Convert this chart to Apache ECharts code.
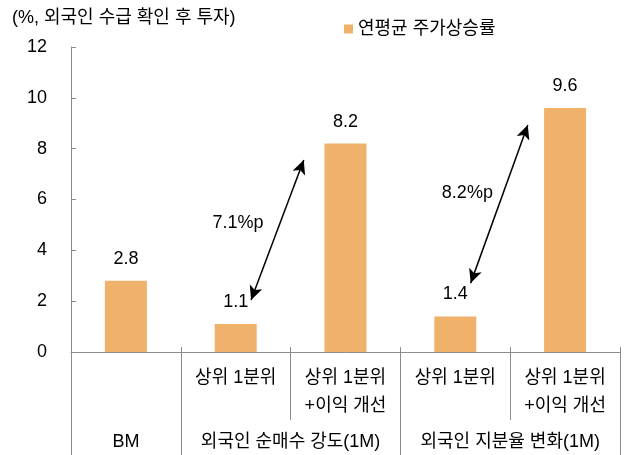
<!DOCTYPE html>
<html>
<head>
<meta charset="utf-8">
<script src="https://cdn.jsdelivr.net/npm/echarts@6/dist/echarts.min.js"></script>
<style>
  html, body { margin: 0; padding: 0; background: #fff; }
  #chart { width: 624px; height: 455px; }
</style>
</head>
<body>
<div id="chart"></div>
<script>
// Bar categories (first-level axis labels) and values
const categories = ['', '상위 1분위', '상위 1분위\n+이익 개선', '상위 1분위', '상위 1분위\n+이익 개선'];
const returns = [2.8, 1.1, 8.2, 1.4, 9.6];
const seriesName = '연평균 주가상승률';

// Second-level groups: name and number of categories each spans
const groupNames = ['BM', '외국인 순매수 강도(1M)', '외국인 지분율 변화(1M)'];
const groupSpans = [1, 2, 2];

// Gap annotations: arrow endpoints (category position, %) and their labels
const arrowFrom = [[1.14, 2.05], [3.14, 2.71]];
const arrowTo = [[1.62, 7.55], [3.66, 8.93]];
const gapLabels = ['7.1%p', '8.2%p'];
const gapLabelPos = [[1.02, 5.07], [3.11, 6.25]];

const yTicks = { min: 0, max: 12, interval: 2 };

// Group boundaries and centres on a continuous -0.5..n-0.5 scale
const groupEdges = [-0.5];
const groupCenters = [];
groupSpans.forEach(function (s) {
  const start = groupEdges[groupEdges.length - 1];
  groupCenters.push(start + s / 2);
  groupEdges.push(start + s);
});

const FONT = '"Liberation Sans", "Noto Sans CJK KR", sans-serif';
const AXIS_COLOR = '#8c8c8c';

const chart = echarts.init(document.getElementById('chart'), null, { renderer: 'canvas' });

chart.setOption({
  animation: false,
  textStyle: { fontFamily: FONT },
  title: {
    text: '(%, 외국인 수급 확인 후 투자)',
    left: 7,
    top: 4,
    textStyle: { fontSize: 18, fontWeight: 'normal', color: '#000', fontFamily: FONT }
  },
  legend: {
    data: [seriesName],
    left: 339,
    top: 15,
    icon: 'rect',
    itemWidth: 9,
    itemHeight: 9,
    itemGap: 6,
    textStyle: { fontSize: 18, color: '#000', fontFamily: FONT }
  },
  grid: { left: 71, right: 4, top: 47, bottom: 103 },
  xAxis: [
    {
      type: 'category',
      data: categories,
      position: 'bottom',
      axisLine: { show: true, lineStyle: { color: AXIS_COLOR, width: 1 } },
      axisTick: { show: true, interval: 0, length: 68, lineStyle: { color: AXIS_COLOR } },
      axisLabel: { interval: 0, fontSize: 18, lineHeight: 28, margin: 12, color: '#000', fontFamily: FONT },
      splitLine: { show: false }
    },
    {
      type: 'value',
      min: -0.5,
      max: categories.length - 0.5,
      position: 'bottom',
      axisLine: { show: false },
      splitLine: { show: false },
      axisTick: {
        show: true,
        customValues: groupEdges,
        length: 103,
        lineStyle: { color: AXIS_COLOR }
      },
      axisLabel: {
        show: true,
        customValues: groupCenters,
        margin: 81,
        fontSize: 18,
        color: '#000',
        fontFamily: FONT,
        formatter: function (v) {
          for (let i = 0; i < groupCenters.length; i++) {
            if (Math.abs(groupCenters[i] - v) < 1e-6) return groupNames[i];
          }
          return '';
        }
      }
    },
    {
      type: 'category',
      data: categories,
      position: 'bottom',
      axisLine: { show: false },
      axisTick: { show: true, inside: true, interval: 0, length: 5, lineStyle: { color: AXIS_COLOR } },
      axisLabel: { show: false },
      splitLine: { show: false }
    }
  ],
  yAxis: {
    type: 'value',
    min: yTicks.min,
    max: yTicks.max,
    interval: yTicks.interval,
    axisLine: { show: true, onZero: false, lineStyle: { color: AXIS_COLOR, width: 1 } },
    axisTick: { show: true, inside: true, length: 5, lineStyle: { color: AXIS_COLOR } },
    axisLabel: { fontSize: 18, color: '#000', margin: 24, fontFamily: FONT },
    splitLine: { show: false }
  },
  series: [
    {
      name: seriesName,
      type: 'bar',
      xAxisIndex: 0,
      data: returns,
      barWidth: 42,
      itemStyle: { color: '#F0B26B' },
      label: {
        show: true,
        position: 'top',
        distance: 13,
        fontSize: 18,
        color: '#000',
        fontFamily: FONT,
        formatter: function (p) { return p.value.toFixed(1); }
      }
    },
    {
      name: 'gap',
      type: 'scatter',
      xAxisIndex: 1,
      symbolSize: 0,
      silent: true,
      itemStyle: { opacity: 1 },
      data: gapLabelPos.map(function (p, i) { return { value: p, name: gapLabels[i] }; }),
      label: {
        show: true,
        position: 'inside',
        fontSize: 18,
        color: '#000',
        fontFamily: FONT,
        formatter: function (p) { return p.name; }
      },
      markLine: {
        silent: true,
        symbol: ['arrow', 'arrow'],
        symbolSize: [10, 14],
        label: { show: false },
        lineStyle: { color: '#000', width: 1.5, type: 'solid' },
        data: arrowFrom.map(function (a, i) {
          return [{ coord: a }, { coord: arrowTo[i] }];
        })
      }
    }
  ]
});
</script>
</body>
</html>
